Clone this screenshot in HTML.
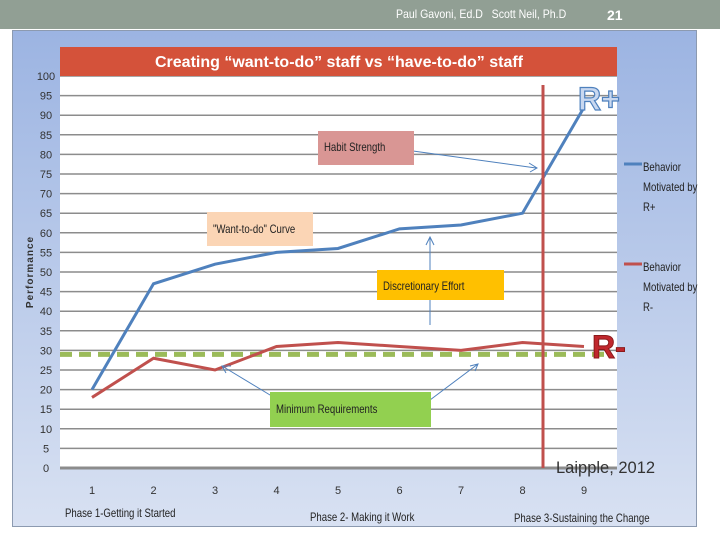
<!DOCTYPE html>
<html><head><meta charset="utf-8"><style>
body{margin:0;width:720px;height:540px;background:#fff;overflow:hidden;font-family:"Liberation Sans",sans-serif;position:relative}
.hdr{position:absolute;left:0;top:0;width:720px;height:29px;background:#919f94}
.hdr span{position:absolute;top:7px;color:#fff;font-size:13px;white-space:nowrap}
.box{position:absolute;left:12px;top:30px;width:683px;height:495px;background:linear-gradient(#9cb4e2,#d8e1f2);border:1px solid #8c9ab0}
.lbl{position:absolute;font-family:"Liberation Sans Narrow","Liberation Sans",sans-serif;font-size:12px;color:#222;transform:scaleX(0.8);transform-origin:left;white-space:nowrap}
</style></head><body>
<div class="hdr">
<span style="left:396px;font-size:12px;transform:scaleX(0.88);transform-origin:left">Paul Gavoni, Ed.D&nbsp;&nbsp; Scott Neil, Ph.D</span>
<span style="left:607px;font-weight:bold;font-size:14px">21</span></div>
<div class="box"></div>
<svg width="720" height="540" style="position:absolute;left:0;top:0" id="chart">
<rect x="60" y="76" width="557" height="392" fill="#fff"/>
<g id="grid"></g><g id="series"></g>
<rect x="60" y="47" width="557" height="29" fill="#d4523a"/>
<text x="339" y="67" text-anchor="middle" fill="#fff" font-weight="bold" font-size="16">Creating “want-to-do” staff vs “have-to-do” staff</text>
<text x="33" y="272" transform="rotate(-90 33 272)" text-anchor="middle" font-size="10" font-weight="bold" fill="#333" letter-spacing="1">Performance</text>
<line x1="543" y1="85" x2="543" y2="468" stroke="#c0504d" stroke-width="3"/>
<text x="578" y="110" font-size="32" font-weight="bold" fill="#c9d8f0" stroke="#4f81bd" stroke-width="1.2" font-family="Liberation Sans Narrow,Liberation Sans,sans-serif">R+</text>
<text x="592" y="358" font-size="32" font-weight="bold" fill="#c0272d" stroke="#8b1a1a" stroke-width="1" font-family="Liberation Sans Narrow,Liberation Sans,sans-serif">R-</text>
<text x="556" y="473" font-size="16.5" fill="#333">Laipple, 2012</text>
<g stroke="#4f81bd" stroke-width="1" fill="none">
<path d="M413 151 L536 168 M529 163 L537 168 L530 172"/>
<path d="M430 325 L430 237 M426 245 L430 237 L434 245"/>
<path d="M275 398 L222 366 M231 366 L222 366 L226 373"/>
<path d="M430 400 L478 364 M470 366 L478 364 L475 371"/>
</g>
<line x1="624" y1="164" x2="642" y2="164" stroke="#4f81bd" stroke-width="3"/>
<line x1="624" y1="264" x2="642" y2="264" stroke="#c0504d" stroke-width="3"/>
</svg>
<div class="lbl" style="left:643px;top:157px;line-height:20px">Behavior<br>Motivated by<br>R+</div>
<div class="lbl" style="left:643px;top:257px;line-height:20px">Behavior<br>Motivated by<br>R-</div>
<div style="position:absolute;left:318px;top:131px;width:96px;height:34px;background:#d99694"><div class="lbl" style="left:6px;top:9px">Habit Strength</div></div>
<div style="position:absolute;left:207px;top:212px;width:106px;height:34px;background:#fbd5b5"><div class="lbl" style="left:6px;top:10px">"Want-to-do" Curve</div></div>
<div style="position:absolute;left:377px;top:270px;width:127px;height:30px;background:#ffc000"><div class="lbl" style="left:6px;top:9px">Discretionary Effort</div></div>
<div style="position:absolute;left:270px;top:392px;width:161px;height:35px;background:#92d050"><div class="lbl" style="left:6px;top:10px">Minimum Requirements</div></div>
<div class="lbl" style="left:65px;top:506px">Phase 1-Getting it Started</div>
<div class="lbl" style="left:310px;top:510px">Phase 2- Making it Work</div>
<div class="lbl" style="left:514px;top:511px">Phase 3-Sustaining the Change</div>
<script>
const categories=[1,2,3,4,5,6,7,8,9];
const rPlus=[20,47,52,55,56,61,62,65,92];
const rMinus=[18,28,25,31,32,31,30,32,31];
const minReq=[29];
const yTicks=[0,5,10,15,20,25,30,35,40,45,50,55,60,65,70,75,80,85,90,95,100];
const NS='http://www.w3.org/2000/svg';
const xs=c=>92+(c-1)*61.5, ys=v=>468-v*3.92;
const grid=document.getElementById('grid'), ser=document.getElementById('series');
function mk(tag,attrs,parent){const e=document.createElementNS(NS,tag);for(const k in attrs)e.setAttribute(k,attrs[k]);parent.appendChild(e);return e;}
yTicks.forEach(v=>{
 const l=mk('line',{x1:60,x2:617,y1:ys(v),y2:ys(v),stroke:'#8c8c8c','stroke-width':v===0?3:1.5},grid);
 
 
 const t=mk('text',{x:46,y:ys(v)+4,'text-anchor':'middle','font-size':11,fill:'#333','font-family':'Liberation Sans Narrow,Liberation Sans,sans-serif'},grid);
 t.textContent=v;
 
 
});
categories.forEach(c=>{
 const t=mk('text',{x:xs(c),y:494,'text-anchor':'middle','font-size':11,fill:'#333'},grid);
 t.textContent=c;
 
 
});
const d=mk('line',{x1:60,x2:605,y1:ys(minReq[0]),y2:ys(minReq[0]),stroke:'#9bbb59','stroke-width':5,'stroke-dasharray':'12 7'},ser);


function line(vals,color,name){
 const p=mk('polyline',{points:vals.map((v,i)=>xs(categories[i])+','+ys(v)).join(' '),fill:'none',stroke:color,'stroke-width':3},ser);
 
 
}
line(rMinus,'#c0504d','series-r-minus');
line(rPlus,'#4f81bd','series-r-plus');
</script>
</body></html>
